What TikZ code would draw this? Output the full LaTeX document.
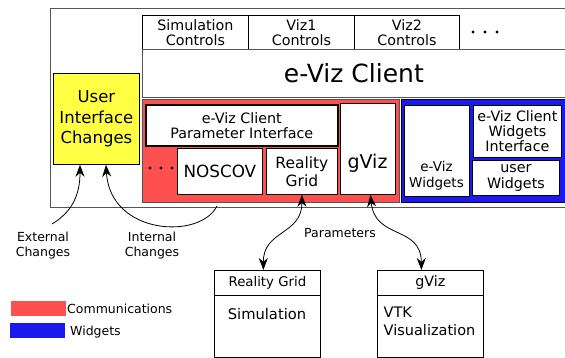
\documentclass[tikz,border=0pt]{standalone}
\usepackage{fontspec}
\setmainfont{DejaVu Sans}
\usetikzlibrary{arrows.meta,calc}
\definecolor{commred}{HTML}{FF5050}
\definecolor{widgblue}{HTML}{1A1AF0}
\definecolor{uiyellow}{HTML}{FFFF44}
\definecolor{edgegray}{HTML}{555555}
\begin{document}
\begin{tikzpicture}[x=1pt,y=-1pt,
  box/.style={draw=black, line width=0.8pt, fill=white, anchor=north west, inner sep=0pt, align=center},
  plain/.style={inner sep=0pt, align=center},
  fsmall/.style={font=\fontsize{12.5}{15}\selectfont},
  fmid/.style={font=\fontsize{14.3}{15.2}\selectfont},
  fbig/.style={font=\fontsize{16.5}{20.5}\selectfont},
  conn/.style={line width=0.8pt, -{Stealth[length=12pt,width=9pt]}},
  dconn/.style={line width=0.8pt, {Stealth[length=12pt,width=9pt]}-{Stealth[length=12pt,width=9pt]}},
  dotmark/.style={fill=black}
]
\useasboundingbox (0,0) rectangle (565,358);

% outer frame
\node[box, draw=edgegray, line width=1pt, minimum width=515pt, minimum height=199pt] (outer) at (49.5,8) {};

% control tabs
\node[box, fmid, minimum width=106pt, minimum height=34pt] (simc) at (142,15) {Simulation\\Controls};
\node[box, fmid, minimum width=106pt, minimum height=34pt] (viz1) at (248,15) {Viz1\\Controls};
\node[box, fmid, minimum width=105pt, minimum height=34pt] (viz2) at (354,15) {Viz2\\Controls};
\fill[dotmark] (473,32) circle (1.7pt) (485,32) circle (1.7pt) (497,32) circle (1.7pt);

% client
\node[box, draw=edgegray, font=\fontsize{25}{28}\selectfont, minimum width=423pt, minimum height=48pt] (client) at (142,49) {e-Viz Client};

% communications (red)
\node[box, draw=edgegray, fill=commred, minimum width=257pt, minimum height=103pt] (red) at (142,99) {};
\node[box, fmid, line width=1.6pt, minimum width=192pt, minimum height=41pt] (param) at (145,104) {e-Viz Client\\Parameter Interface};
\fill[dotmark] (150,168) circle (1.7pt) (161,168) circle (1.7pt) (172,168) circle (1.7pt);
\node[box, font=\fontsize{16.8}{19}\selectfont, minimum width=85pt, minimum height=46pt] (noscov) at (177,148) {NOSCOV};
\node[box, font=\fontsize{15.5}{18}\selectfont, minimum width=71pt, minimum height=46pt] (rg) at (266,148) {Reality\\Grid};
\node[box, minimum width=55pt, minimum height=91pt] (gviz) at (340,103) {};
\node[plain, font=\fontsize{19}{21}\selectfont] (gviztxt) at (367.5,163) {gViz};

% widgets (blue)
\node[box, draw=black, fill=widgblue, minimum width=164pt, minimum height=103pt] (blue) at (401,99) {};
\node[box, minimum width=65pt, minimum height=91pt] (evw) at (404,105) {};
\node[plain, font=\fontsize{13.5}{16}\selectfont] (evwtxt) at (436.5,175.5) {e-Viz\\Widgets};
\node[box, fmid, minimum width=88pt, minimum height=52pt] (wint) at (473,105) {e-Viz Client\\Widgets\\Interface};
\node[box, fmid, minimum width=87pt, minimum height=35pt] (uw) at (472,160) {user\\Widgets};

% user interface changes
\node[box, fbig, fill=uiyellow, minimum width=86pt, minimum height=91pt] (ui) at (53,73) {User\\Interface\\Changes};

% labels
\node[plain, fsmall] (ext) at (43,246) {External\\Changes};
\node[plain, fsmall] (int) at (152,246) {Internal\\Changes};
\node[plain, fsmall] (params) at (340,233) {Parameters};

% bottom boxes
\node[box, font=\fontsize{13.3}{15}\selectfont, minimum width=106pt, minimum height=25pt] (rghead) at (214,270) {Reality Grid};
\node[box, minimum width=106pt, minimum height=62pt] (rgbody) at (214,295) {};
\node[plain, font=\fontsize{14.7}{17}\selectfont] (rgsim) at (267,314) {Simulation};
\node[box, font=\fontsize{14.3}{15}\selectfont, minimum width=106pt, minimum height=25pt] (gvhead) at (377,270) {gViz};
\node[box, minimum width=106pt, minimum height=62pt] (gvbody) at (377,295) {};
\node[plain, font=\fontsize{14.5}{18}\selectfont, align=left, anchor=west] (gvvtk) at (383.5,321) {VTK\\Visualization};

% legend
\node[draw=none, fill=commred, anchor=north west, minimum width=55pt, minimum height=15pt, inner sep=0pt] (legred) at (11,301) {};
\node[plain, fsmall, anchor=west] (legredtxt) at (67,309) {Communications};
\node[draw=none, fill=widgblue, anchor=north west, minimum width=55pt, minimum height=15pt, inner sep=0pt] (legblue) at (10,323) {};
\node[plain, fsmall, anchor=west] (legbluetxt) at (70,332) {Widgets};

% connectors
\coordinate (extstart) at (52,224);
\coordinate (intstart) at (217,206);
\draw[conn] (extstart) .. controls (72,212) and (80,195) .. ($(ui.south west)+(27,0)$);
\draw[conn] (intstart) .. controls (200,240) and (110,235) .. ($(ui.south west)+(53,0)$);
\draw[dconn] (rg.south) .. controls (302,235) and (263,230) .. ($(rghead.north)+(-4,0)$);
\draw[dconn] ($(gviz.south)+(2.5,0)$) .. controls (375,240) and (421,225) .. ($(gvhead.north)+(-9,0)$);
\end{tikzpicture}
\end{document}
